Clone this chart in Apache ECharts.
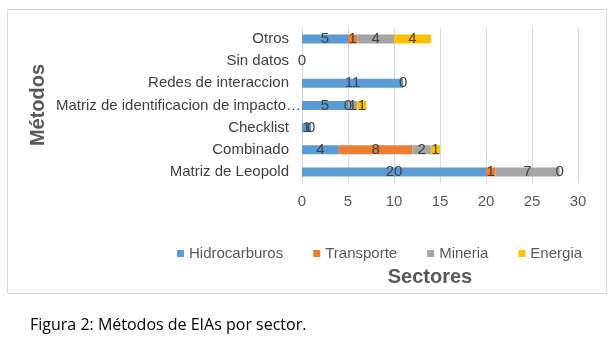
<!DOCTYPE html>
<html lang="es">
<head>
    <meta charset="utf-8"/>
    <title>Métodos de EIAs por sector</title>
    <script src="https://cdn.jsdelivr.net/npm/echarts@6/dist/echarts.min.js"></script>
    <style>
        html, body { margin: 0; padding: 0; background: #fff; }
        #main { width: 614px; height: 339px; }
    </style>
</head>
<body>
<div id="main"></div>
<script>
    // categorias de abajo hacia arriba
    var metodos = ['Matriz de Leopold', 'Combinado', 'Checklist',
        'Matriz de identificacion de impacto…', 'Redes de interaccion', 'Sin datos', 'Otros'];
    var hidrocarburos = [20, 4, 1, 5, 11, 0, 5];
    var transporte = [1, 8, 0, 0, 0, null, 1];
    var mineria = [7, 2, null, 1, null, null, 4];
    var energia = [0, 1, null, 1, null, null, 4];
    var xTicks = [0, 5, 10, 15, 20, 25, 30];

    var colores = ['#5B9BD5', '#ED7D31', '#A5A5A5', '#FFC000'];
    var nombres = ['Hidrocarburos', 'Transporte', 'Mineria', 'Energia'];
    var valores = [hidrocarburos, transporte, mineria, energia];

    var myChart = echarts.init(document.getElementById('main'));
    var fuente = '"Liberation Sans", Arial, sans-serif';

    var series = nombres.map(function (n, i) {
        return {
            name: n,
            type: 'bar',
            stack: 'total',
            barWidth: 9,
            data: valores[i],
            itemStyle: {color: colores[i]},
            label: {
                show: true,
                position: 'inside',
                color: '#404040',
                fontFamily: fuente,
                fontSize: 15
            }
        };
    });

    // la etiqueta larga sobresale del margen como en la original
    var categorias = metodos.map(function (m) {
        if (m.indexOf('…') > -1) {
            return {value: m, textStyle: {padding: [0, -12, 0, 0]}};
        }
        return m;
    });

    var option = {
        animation: false,
        textStyle: {fontFamily: fuente},
        grid: {left: 302, top: 28, width: 276, height: 155, containLabel: false},
        legend: {
            data: nombres,
            left: 172,
            top: 241,
            itemWidth: 7,
            itemHeight: 7,
            itemGap: 30,
            icon: 'rect',
            textStyle: {color: '#595959', fontSize: 15, fontFamily: fuente}
        },
        xAxis: {
            type: 'value',
            min: xTicks[0],
            max: xTicks[xTicks.length - 1],
            interval: 5,
            axisLine: {show: false},
            axisTick: {show: false},
            splitLine: {lineStyle: {color: '#D9D9D9'}},
            axisLabel: {color: '#595959', fontSize: 15, margin: 11}
        },
        yAxis: {
            type: 'category',
            data: categorias,
            axisLine: {show: false},
            axisTick: {show: false},
            axisLabel: {color: '#404040', fontSize: 15, margin: 13}
        },
        series: series,
        graphic: [
            {
                type: 'rect',
                shape: {x: 7.5, y: 9.5, width: 599, height: 284},
                style: {fill: null, stroke: '#D9D9D9', lineWidth: 1},
                silent: true
            },
            {
                type: 'text',
                x: 430, y: 277,
                style: {
                    text: 'Sectores', fill: '#595959', font: 'bold 20px ' + fuente,
                    textAlign: 'center', textVerticalAlign: 'middle'
                }
            },
            {
                type: 'text',
                x: 38, y: 105,
                rotation: Math.PI / 2,
                style: {
                    text: 'Métodos', fill: '#595959', font: 'bold 20px ' + fuente,
                    textAlign: 'center', textVerticalAlign: 'middle'
                }
            },
            {
                type: 'text',
                x: 30, y: 325,
                style: {
                    text: 'Figura 2: Métodos de EIAs por sector.', fill: '#000',
                    font: '16px "Open Sans", sans-serif',
                    textAlign: 'left', textVerticalAlign: 'middle'
                }
            }
        ]
    };
    myChart.setOption(option);
</script>
</body>
</html>
